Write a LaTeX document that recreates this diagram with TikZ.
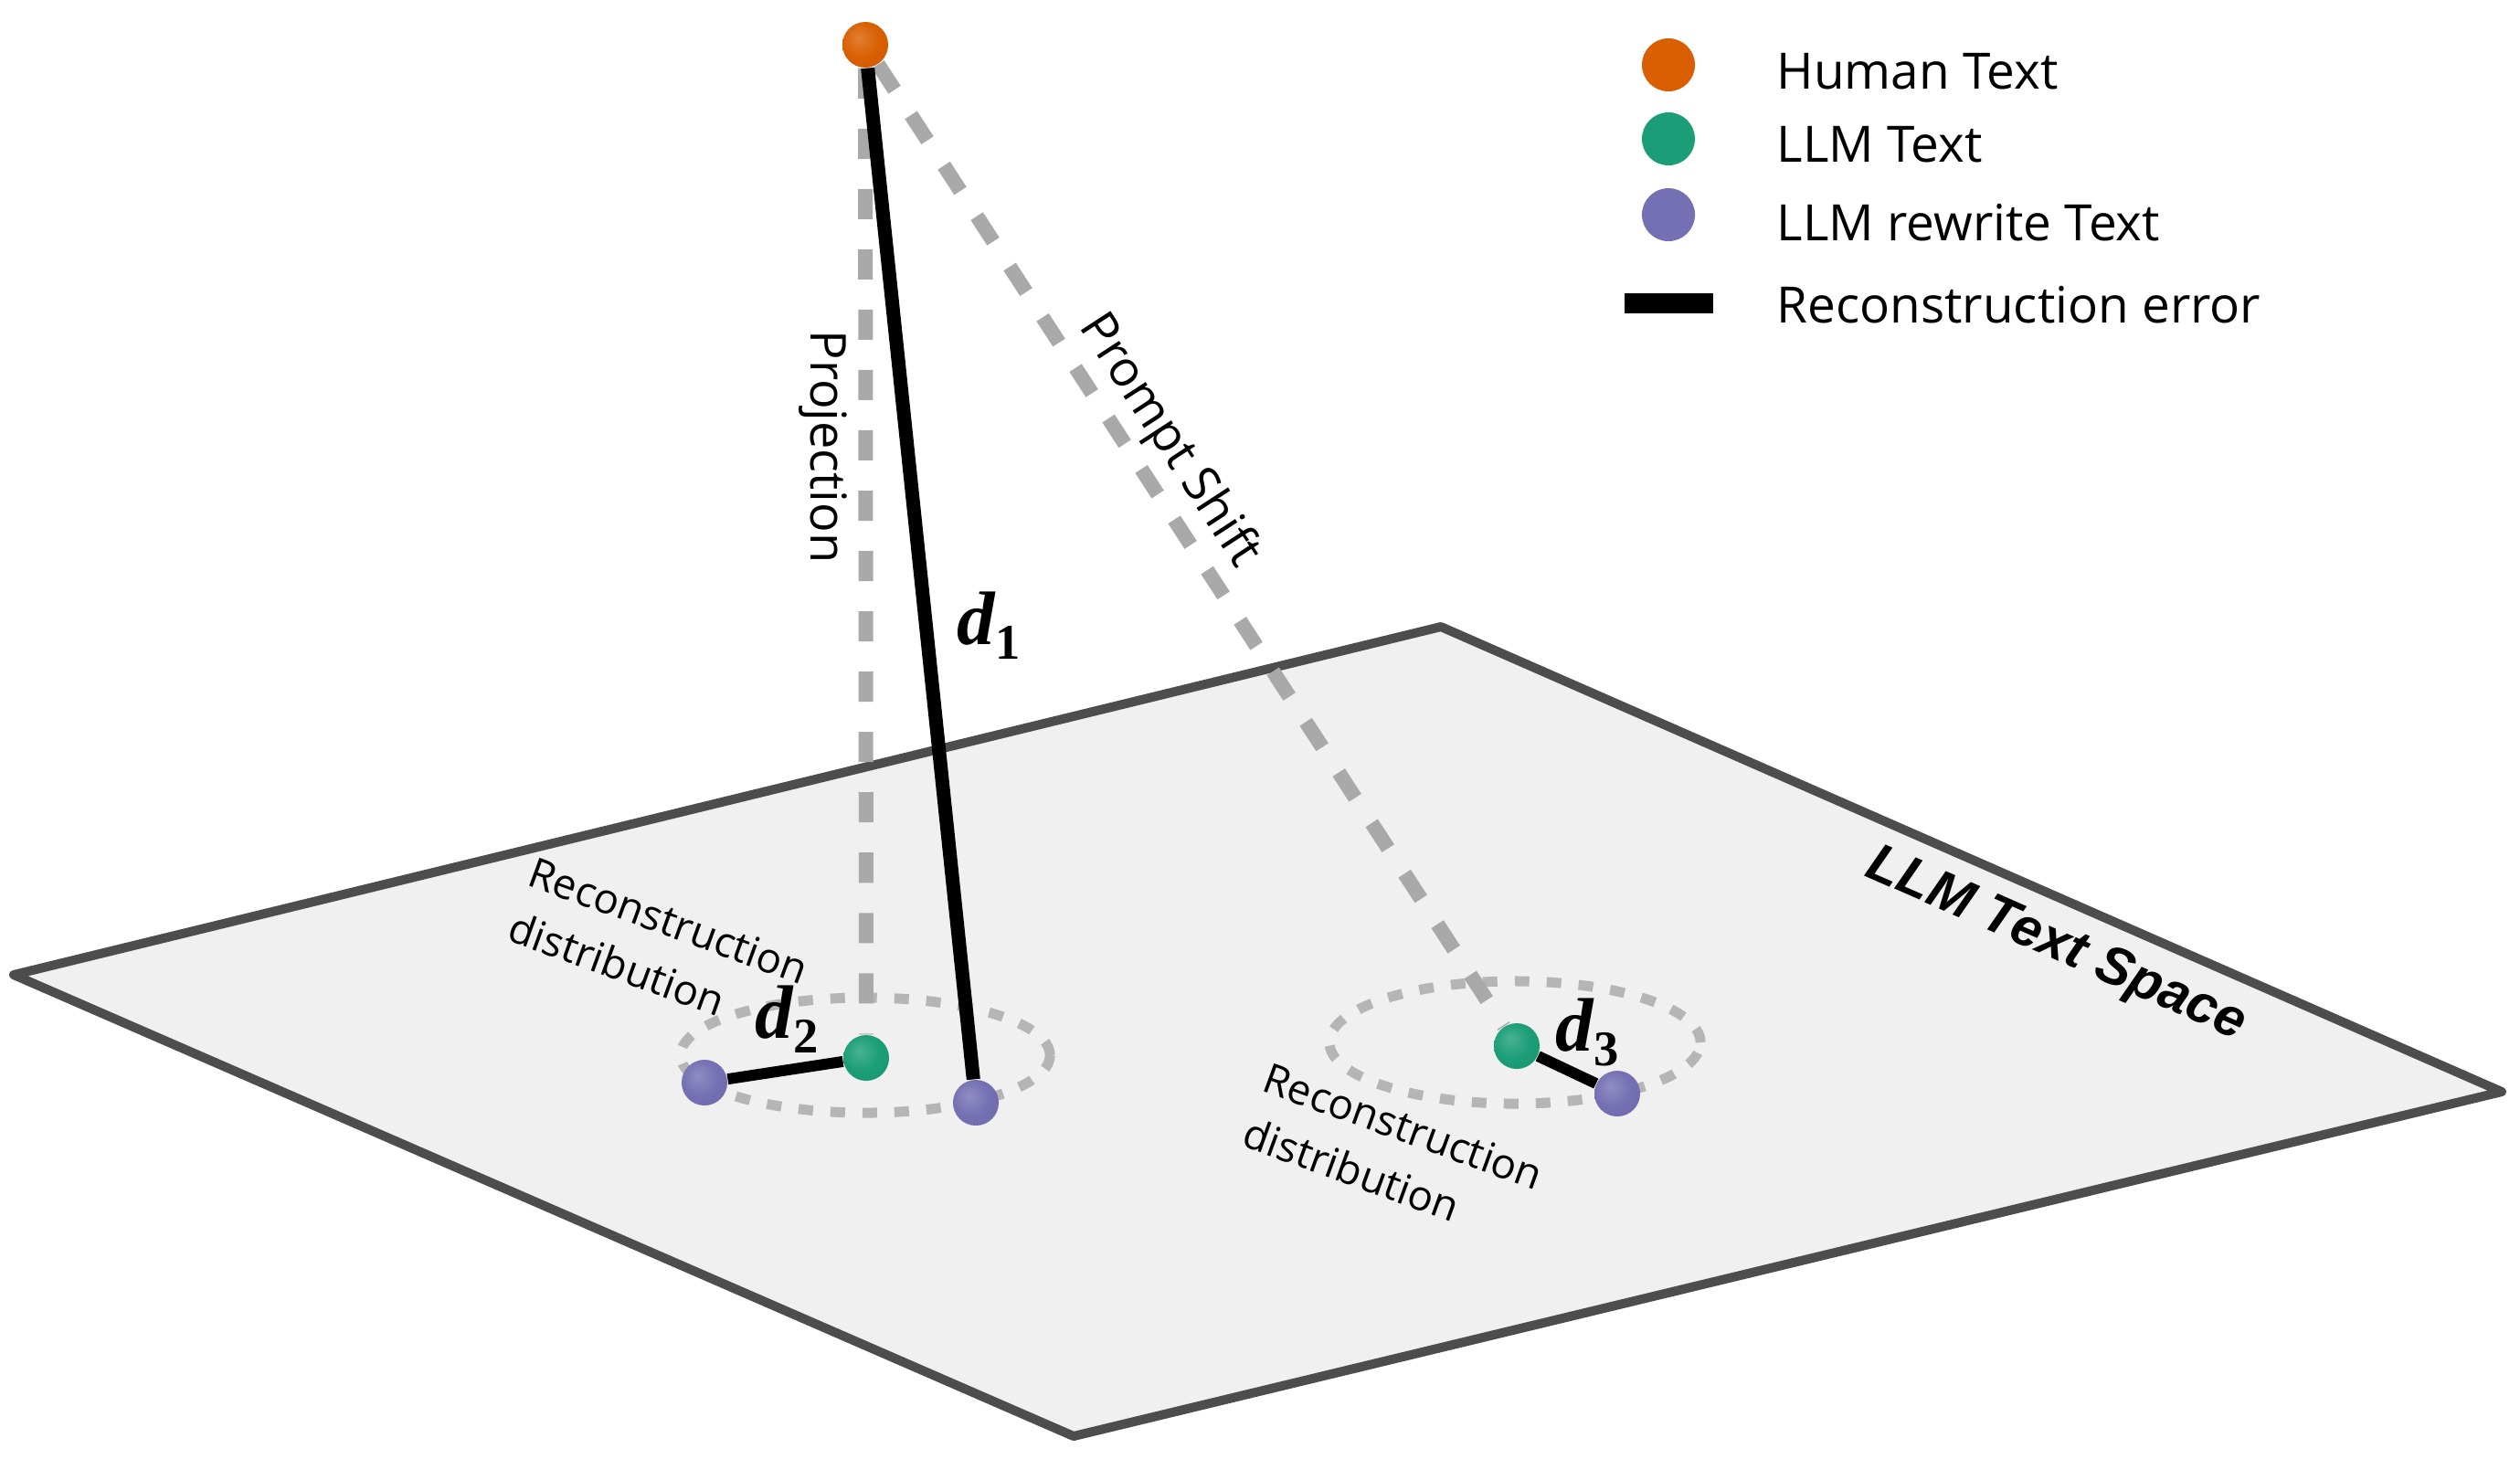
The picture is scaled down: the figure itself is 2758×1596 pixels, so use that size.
\documentclass[tikz,border=0pt]{standalone}
\usepackage{fontspec}
\setmainfont{Open Sans}
\newfontfamily\dfont{Liberation Serif}
\newfontfamily\spacefont{Liberation Sans}
\definecolor{hc}{HTML}{D95F02}
\definecolor{lc}{HTML}{1B9E77}
\definecolor{rc}{HTML}{7570B3}
\definecolor{planefill}{HTML}{F0F0F0}
\definecolor{planeedge}{HTML}{4D4D4D}
\definecolor{dashgray}{HTML}{A9A9A9}
\definecolor{ringgray}{HTML}{B5B5B5}
\pgfdeclareradialshading{hballsh}{\pgfpoint{-8bp}{8bp}}{color(0bp)=(hc!80!white); color(20bp)=(hc); color(44bp)=(hc!92!black); color(58bp)=(hc!70!black)}
\pgfdeclareradialshading{lballsh}{\pgfpoint{-8bp}{8bp}}{color(0bp)=(lc!80!white); color(20bp)=(lc); color(44bp)=(lc!92!black); color(58bp)=(lc!70!black)}
\pgfdeclareradialshading{rballsh}{\pgfpoint{-8bp}{8bp}}{color(0bp)=(rc!80!white); color(20bp)=(rc); color(44bp)=(rc!92!black); color(58bp)=(rc!70!black)}
\pgfdeclarelayer{bgplane}
\pgfdeclarelayer{bglines}
\pgfsetlayers{bgplane,bglines,main}
\begin{document}
\begin{tikzpicture}[x=0.01cm, y=-0.01cm,
  ballnode/.style={circle, minimum size=0.5cm, inner sep=0pt, draw=none},
  hball/.style={ballnode, shading=hballsh},
  lball/.style={ballnode, shading=lballsh},
  rball/.style={ballnode, shading=rballsh},
  legball/.style={circle, minimum size=0.58cm, inner sep=0pt, draw=none},
  plane/.style={draw=planeedge, fill=planefill, line width=0.1cm, line join=round},
  ring/.style={draw=ringgray, line width=0.11cm, dash pattern=on 0.16cm off 0.19cm},
  graydash/.style={draw=dashgray, line width=0.16cm, dash pattern=on 0.33cm off 0.33cm},
  errline/.style={draw=black, line width=0.15cm},
  smallerr/.style={draw=black, line width=0.12cm},
  lbl/.style={inner sep=0pt, font=\fontsize{15.4}{18}\selectfont},
  smalllbl/.style={inner sep=0pt, align=left, font=\fontsize{13}{18.2}\selectfont},
  leglbl/.style={inner sep=0pt, anchor=base west, font=\fontsize{15.6}{18}\selectfont},
  dlab/.style={inner sep=0pt, font=\dfont\bfseries\fontsize{23.6}{24}\selectfont},
  spacelbl/.style={inner sep=0pt, font=\spacefont\bfseries\itshape\fontsize{16.8}{18}\selectfont}
]
\useasboundingbox (0,0) rectangle (2758,1596);

% balls
\node[hball] (H) at (947,49) {};
\node[lball] (G1) at (948,1158) {};
\node[rball] (P1) at (771,1185) {};
\node[rball] (P2) at (1068,1207) {};
\node[lball] (G2) at (1660,1145) {};
\node[rball] (P3) at (1770,1197) {};

\coordinate (c1) at (947,1155);
\coordinate (c2) at (1658,1141);

\begin{pgfonlayer}{bgplane}
  \draw[plane] (15,1067) -- (1577,686) -- (2738,1195) -- (1175,1572) -- cycle;
  \draw[ring] (c1) ellipse [x radius=2.02cm, y radius=0.63cm];
  \draw[ring] (c2) ellipse [x radius=2.03cm, y radius=0.67cm];
\end{pgfonlayer}

\begin{pgfonlayer}{bglines}
  \draw[graydash] (H) -- (G1);
  \draw[graydash] (H) -- (G2);
  \draw[errline] (H) -- (P2);
  \draw[smallerr] (P1) -- (G1);
  \draw[smallerr] (G2) -- (P3);
\end{pgfonlayer}

% labels
\node[lbl, rotate=-90] (projlbl) at (901,489) {Projection};
\node[lbl, rotate=-56.9] (shiftlbl) at (1279,483) {Prompt Shift};
\node[smalllbl, rotate=-20] (rdA) at (721,1038) {Reconstruction\\distribution};
\node[smalllbl, rotate=-20] (rdB) at (1525,1263) {Reconstruction\\distribution};
\node[spacelbl, rotate=-23.7] (spacel) at (2250,1035) {LLM Text Space};
\node[dlab] (d1) at (1082,685) {\itshape d\raisebox{-0.16cm}{\upshape\fontsize{15.5}{15}\selectfont 1}};
\node[dlab] (d2) at (861,1116) {\itshape d\raisebox{-0.16cm}{\upshape\fontsize{15.5}{15}\selectfont 2}};
\node[dlab] (d3) at (1737,1130) {\itshape d\raisebox{-0.16cm}{\upshape\fontsize{15.5}{15}\selectfont 3}};

% legend
\node[legball, fill=hc] (lgH) at (1826,71) {};
\node[legball, fill=lc] (lgL) at (1826,152) {};
\node[legball, fill=rc] (lgR) at (1826,235) {};
\coordinate (lgA) at (1778,332);
\coordinate (lgB) at (1875,332);
\draw[draw=black, line width=0.22cm] (lgA) -- (lgB);
\node[leglbl] (tH) at (1944,97) {Human Text};
\node[leglbl] (tL) at (1944,177) {LLM Text};
\node[leglbl] (tR) at (1944,263) {LLM rewrite Text};
\node[leglbl] (tE) at (1944,353) {Reconstruction error};
\end{tikzpicture}
\end{document}
